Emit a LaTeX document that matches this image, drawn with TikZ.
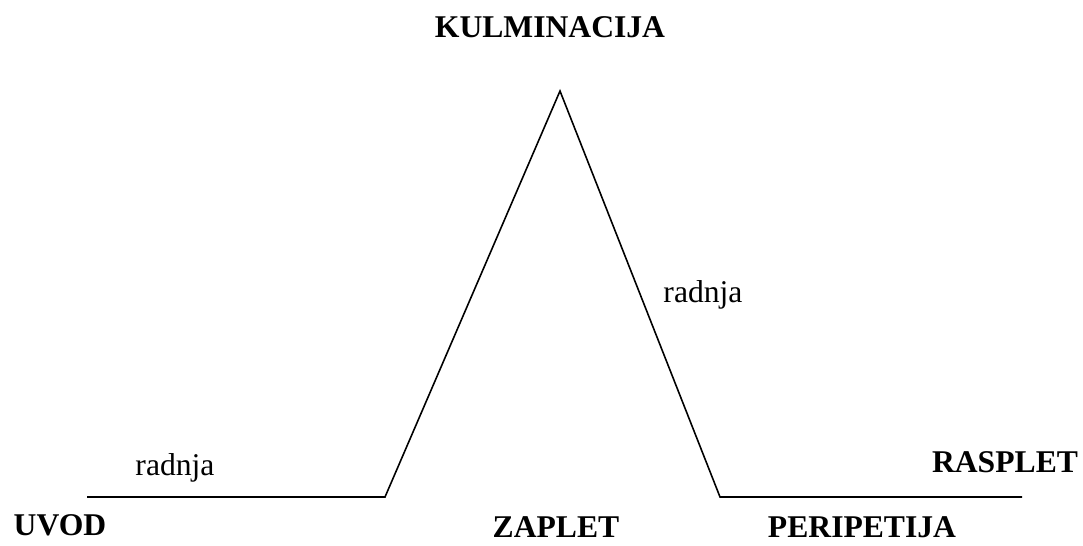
\documentclass[tikz,border=0pt]{standalone}
\usepackage{fontspec}
\setmainfont{Liberation Serif}
\begin{document}
\begin{tikzpicture}[
        stage/.style={font=\fontsize{18}{20}\selectfont\bfseries, inner sep=0pt, anchor=base},
        note/.style={font=\fontsize{18}{20}\selectfont, inner sep=0pt, anchor=base},
        plotline/.style={black, line width=0.9pt}
    ]
        \useasboundingbox (0,0) rectangle (21.66,10.92);

        \coordinate (start) at (1.74,0.98);
        \coordinate (rise) at (7.70,0.98);
        \coordinate (peak) at (11.20,9.10);
        \coordinate (fall) at (14.40,0.98);
        \coordinate (finish) at (20.44,0.98);

        \draw[plotline] (start) -- (rise) -- (peak) -- (fall) -- (finish);

        \node[stage] (kulminacija) at (11.00,10.16) {KULMINACIJA};
        \node[stage] (uvod) at (1.20,0.20) {UVOD};
        \node[stage] (zaplet) at (11.12,0.16) {ZAPLET};
        \node[stage] (peripetija) at (17.24,0.16) {PERIPETIJA};
        \node[stage] (rasplet) at (20.10,1.46) {RASPLET};

        \node[note] (radnja1) at (3.50,1.40) {radnja};
        \node[note] (radnja2) at (14.06,4.86) {radnja};
    \end{tikzpicture}
\end{document}
